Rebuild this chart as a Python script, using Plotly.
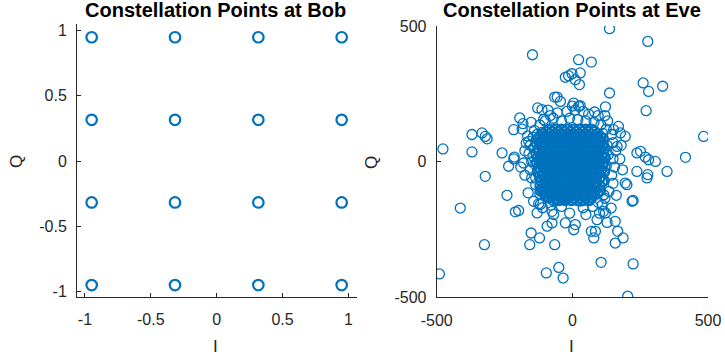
import plotly.graph_objects as go

# ---- Data ----
bob_levels = [-0.9487, -0.3162, 0.3162, 0.9487]

# Eve: outliers / sparse points
eve_outer_i = [137, 278, -147, 23, 70, -26, -14, -1, 29, 11, 26, 261, 281, 333, 137, 272, 122, 82,
               -56, -65, -44, 5, 23, 29, -128, -112, -194, -182, -216, -152, -106, -81, 484, 417,
               -477, -370, -333, -321, -314, -370, -259, -216, -214, -170, -161, -235, -321, -180,
               177, 195, 152, 238, 251, 269, 281, 306, 349, 278, 238, 165,
               -241, -413, -210, -198, -163, -143, -118, -124, -130, -75, -69, -93, -75, -152, -157,
               -121, -65, -324, -490, -96, -50, -34, 106, 224, 204, 5, -26, 11, 70, 85, 79, 91,
               128, 122, 115, 143, 158, 167, 158, 187, 162, 220, 224, 195, 201, 275]
eve_outer_q = [490, 443, 394, 376, 367, 311, 317, 324, 327, 302, 284, 290, 259, 278, 253, 188, 202, 183,
               238, 238, 222, 216, 204, 206, 198, 192, 161, 140, 118, 145, 155, 170, 93, 16,
               47, 100, 106, 93, 84, 36, 32, 10, 17, 69, 75, -17, -54, -5,
               106, 93, 118, 32, 38, 17, 7, 1, -36, -48, -36, 56,
               -124, -171, -185, -180, -115, -146, -158, -155, -189, -183, -195, -238, -226, -263, -306,
               -281, -306, -306, -414, -410, -390, -429, -371, -377, -496, -251, -226, -232, -257, -257, -281, -214,
               -224, -189, -183, -171, -220, -257, -300, -281, -124, -146, -143, -79, -85, -60]

# Eve: ring of points around the dense centre
eve_ring_i = [-100, -70, -40, -10, 20, 50, 80, 105, 125, -120, -140, -145, 60, 95, -20, -55, 10, 40, 130,
              145, 150, 160, 150, 155, 145, 150, 135, 120, 95, 60, 30, 0, -30, -60, -90, -110, -135,
              -150, -155, -150, -160, -155, -175, -190, -175, 175, 185, 180, -80, -40, 40, 75, 110,
              -130, -165, 120, 170, -185, 0, -90, 100, 50, -10, -110,
              -142, -138, 128, 125, 132, -145, 118, -135, -112, 112, -120, 116]
eve_ring_q = [150, 160, 150, 160, 155, 150, 145, 135, 120, 135, 115, 90, 175, 170, 185, 180, 190, 185, 150,
              100, 70, 40, 10, -20, -50, -80, -110, -135, -150, -140, -145, -140, -135, -140, -130, -110, -85,
              -60, -30, 0, 30, 60, 40, -20, -50, 10, -30, 60, -160, -165, -170, -165, -160,
              100, 95, 170, 130, 120, 205, 190, -190, -195, -190, -170,
              52, -10, 60, -15, 25, 20, -70, -60, 108, 104, -118, -122]

# Eve: dense centre, read row by row (Q value, then I values in that row)
eve_core_rows_q = [118, 110, 101, 92, 84, 75, 66, 57, 49, 40, 31, 22, 14, 5, -3, -12, -20, -29,
                   -38, -46, -55, -63, -72, -81, -90, -98, -107, -116, -124, -133, -142]
eve_core_rows_i = [
    [-85, -62, -40, -18, 4, 26, 48, 70],
    [-97, -75, -52, -30, -8, 15, 37, 59, 82],
    [-110, -89, -66, -44, -21, 1, 23, 46, 68, 92],
    [-118, -96, -73, -51, -28, -6, 17, 39, 62, 85, 103],
    [-127, -106, -84, -63, -39, -18, 6, 28, 49, 72, 95, 112],
    [-118, -96, -74, -51, -29, -7, 16, 38, 60, 83, 104],
    [-131, -112, -90, -68, -47, -24, -2, 21, 44, 66, 87, 109],
    [-113, -91, -68, -46, -25, -2, 20, 43, 65, 88, 110],
    [-124, -101, -79, -57, -36, -13, 9, 31, 54, 77, 99, 118],
    [-121, -99, -77, -55, -33, -10, 13, 36, 58, 80, 102],
    [-133, -110, -88, -66, -45, -21, 2, 25, 47, 69, 91, 113],
    [-116, -93, -71, -48, -26, -4, 18, 40, 63, 85, 107],
    [-127, -104, -82, -59, -37, -15, 7, 29, 52, 74, 96, 120],
    [-118, -96, -74, -52, -30, -7, 15, 37, 60, 82, 104],
    [-130, -107, -86, -63, -41, -19, 4, 26, 48, 71, 93, 115],
    [-113, -90, -68, -45, -23, -1, 21, 44, 66, 89, 110],
    [-124, -101, -79, -56, -34, -12, 10, 33, 55, 78, 100],
    [-116, -94, -72, -50, -27, -5, 17, 39, 61, 84, 106],
    [-128, -105, -83, -61, -39, -16, 6, 28, 50, 73, 95, 117],
    [-109, -86, -64, -42, -19, 3, 26, 48, 70, 93],
    [-120, -97, -75, -53, -30, -8, 15, 37, 59, 82, 104],
    [-101, -79, -57, -35, -13, 10, 32, 55, 77, 99],
    [-112, -90, -68, -46, -24, -1, 21, 44, 66, 88, 110],
    [-92, -70, -48, -26, -4, 19, 41, 63, 86],
    [-118, -97, -75, -53, -31, -8, 14, 36, 59, 81, 101],
    [-110, -88, -66, -44, -22, 1, 23, 45, 67, 90],
    [-117, -95, -73, -51, -29, -6, 16, 38, 61, 83, 102],
    [-104, -82, -60, -38, -15, 7, 29, 51, 74, 93],
    [-98, -76, -54, -32, -10, 12, 34, 56, 79],
    [-86, -63, -41, -19, 3, 26, 48, 70],
    [-70, -48, -26, -4, 18, 40, 62],
]

bob_ticks = [-1, -0.5, 0, 0.5, 1]
bob_ticktext = ["-1", "-0.5", "0", "0.5", "1"]
eve_ticks = [-500, 0, 500]
eve_ticktext = ["-500", "0", "500"]

# ---- Build ----
bob_i = [a for a in bob_levels for b in bob_levels]
bob_q = [b for a in bob_levels for b in bob_levels]

core_i, core_q = [], []
for q, row in zip(eve_core_rows_q, eve_core_rows_i):
    for v in row:
        core_i.append(v)
        core_q.append(q)

eve_i = eve_outer_i + eve_ring_i
eve_q = eve_outer_q + eve_ring_q

BLUE = "#0072BD"
AX = "#262626"
FONT = "Liberation Sans, Arial, sans-serif"
W, H = 725, 358

fig = go.Figure()
fig.add_trace(go.Scatter(x=bob_i, y=bob_q, mode="markers", xaxis="x", yaxis="y",
                         marker=dict(symbol="circle-open", size=10.5, color=BLUE,
                                     line=dict(width=2.2, color=BLUE)),
                         showlegend=False, hoverinfo="x+y"))
fig.add_trace(go.Scatter(x=eve_i, y=eve_q, mode="markers", xaxis="x2", yaxis="y2",
                         marker=dict(symbol="circle-open", size=10, color=BLUE,
                                     line=dict(width=1.3, color=BLUE)),
                         showlegend=False, hoverinfo="x+y"))
fig.add_trace(go.Scatter(x=core_i, y=core_q, mode="markers", xaxis="x2", yaxis="y2",
                         marker=dict(symbol="circle-open", size=10, color=BLUE,
                                     line=dict(width=2.2, color=BLUE)),
                         showlegend=False, hoverinfo="x+y"))

def px_x(p):
    return p / W

def px_y(p):
    return 1 - p / H

axis_common = dict(showgrid=False, zeroline=False, showline=True, linecolor=AX, linewidth=1,
                   ticks="inside", ticklen=4, tickcolor=AX, tickwidth=1, mirror=False,
                   automargin=False,
                   tickfont=dict(family=FONT, size=16, color=AX), fixedrange=True)

fig.update_layout(
    width=W, height=H, autosize=False, margin=dict(l=0, r=0, t=0, b=0, pad=0),
    paper_bgcolor="white", plot_bgcolor="white",
    xaxis=dict(domain=[px_x(77), px_x(357)], range=[-1.06, 1.065], tickvals=bob_ticks,
               ticktext=bob_ticktext, anchor="y", ticklabelstandoff=8, **axis_common),
    yaxis=dict(domain=[px_y(297), px_y(24)], range=[-1.04, 1.05], tickvals=bob_ticks,
               ticktext=bob_ticktext, anchor="x", ticklabelstandoff=6, **axis_common),
    xaxis2=dict(domain=[px_x(436.7), px_x(708)], range=[-500, 500], tickvals=eve_ticks,
                ticktext=eve_ticktext, anchor="y2", ticklabelstandoff=8, **axis_common),
    yaxis2=dict(domain=[px_y(297.3), px_y(26)], range=[-500, 500], tickvals=eve_ticks,
                ticktext=eve_ticktext, anchor="x2", ticklabelstandoff=6, **axis_common),
)

def ann(text, x, y, size, bold=False, angle=0):
    fig.add_annotation(text=("<b>%s</b>" % text) if bold else text, x=px_x(x), y=px_y(y),
                       xref="paper", yref="paper", showarrow=False, textangle=angle,
                       xanchor="center", yanchor="middle",
                       font=dict(family=FONT, size=size, color="#000000" if bold else AX))

ann("Constellation Points at Bob", 216, 10, 20, bold=True)
ann("Constellation Points at Eve", 572, 10, 20, bold=True)
ann("Q", 16, 161, 17, angle=-90)
ann("Q", 371, 162, 17, angle=-90)
ann("I", 216, 346, 17)
ann("I", 571, 346, 17)

fig.write_html("out.html", config={"responsive": False})
